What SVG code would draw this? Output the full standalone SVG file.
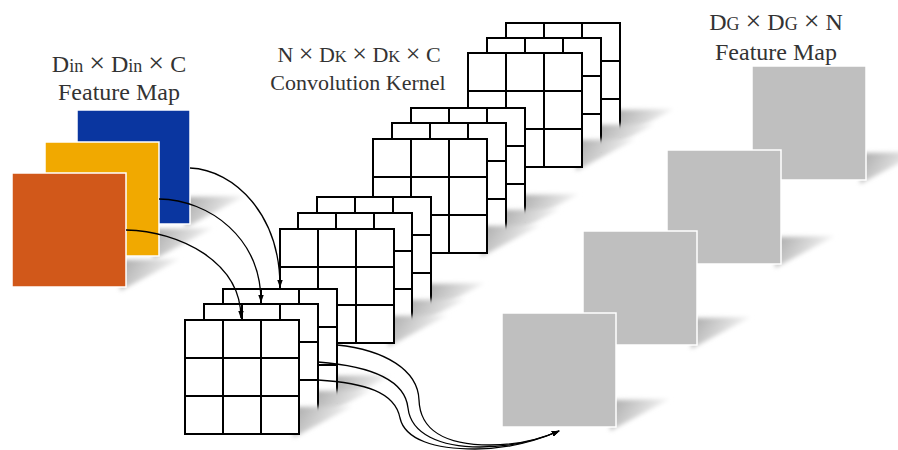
<svg xmlns="http://www.w3.org/2000/svg" width="898" height="450" viewBox="0 0 898 450">
<defs>
<style>
.lbl{font-family:"Liberation Serif","Times New Roman",serif;fill:#333;text-anchor:middle}
.t24{font-size:24px}
.t22{font-size:22px}
.s24{font-size:18px}
.s22{font-size:16.5px}
.x24{font-size:28px}
.x22{font-size:26px}
.map{stroke:#fff;stroke-width:1.5}
.cell{fill:#fff;stroke:#000;stroke-width:2}
.ln{fill:none;stroke:#000;stroke-width:2}
.con{fill:none;stroke:#000;stroke-width:1.3}
</style>
<linearGradient id="shg" x1="0" y1="0" x2="1" y2="0.35">
<stop offset="0" stop-color="#a8a8a8"/>
<stop offset="0.55" stop-color="#d6d6d6"/>
<stop offset="1" stop-color="#ffffff"/>
</linearGradient>
<filter id="soft" x="-0.4" y="-0.4" width="1.8" height="1.8">
<feGaussianBlur stdDeviation="2"/>
</filter>
<polygon id="shadow" points="108,87 168,86 108,118" fill="url(#shg)" filter="url(#soft)"/>
<g id="grid">
<use href="#shadow"/>
<rect class="cell" width="114" height="114"/>
<path class="ln" d="M38,0V114M76,0V114M0,38H114M0,76H114"/>
</g>
<marker id="ah" viewBox="0 0 10 10" refX="9" refY="5" markerWidth="8" markerHeight="8" markerUnits="userSpaceOnUse" orient="auto">
<path d="M0,1.5 L10,5 L0,8.5 z" fill="#000"/>
</marker>
</defs>
<rect width="898" height="450" fill="#fff"/>

<g id="labels">
<text class="lbl t24" x="119" y="72">D<tspan class="s24">in</tspan> <tspan class="x24">×</tspan> D<tspan class="s24">in</tspan> <tspan class="x24">×</tspan> C</text>
<text class="lbl t24" x="119" y="100">Feature Map</text>
<text class="lbl t22" x="359" y="62">N <tspan class="x22">×</tspan> D<tspan class="s22">K</tspan> <tspan class="x22">×</tspan> D<tspan class="s22">K</tspan> <tspan class="x22">×</tspan> C</text>
<text class="lbl t22" x="358" y="90">Convolution Kernel</text>
<text class="lbl t24" x="776" y="30">D<tspan class="s24">G</tspan> <tspan class="x24">×</tspan> D<tspan class="s24">G</tspan> <tspan class="x24">×</tspan> N</text>
<text class="lbl t24" x="776" y="60">Feature Map</text>
</g>

<g id="input-map-blue" transform="translate(77,110)"><use href="#shadow"/><rect class="map" width="113" height="114" fill="#0a36a0"/></g>
<g id="input-map-yellow" transform="translate(45,142)"><use href="#shadow"/><rect class="map" width="114" height="114" fill="#f1a900"/></g>
<g id="input-map-orange" transform="translate(12,173)"><use href="#shadow"/><rect class="map" width="114" height="114" fill="#d1581a"/></g>

<g id="kernel-4">
<use href="#grid" x="506" y="23"/>
<use href="#grid" x="487" y="38"/>
<use href="#grid" x="468" y="53"/>
</g>
<g id="kernel-3">
<use href="#grid" x="411" y="108"/>
<use href="#grid" x="392" y="123"/>
<use href="#grid" x="373" y="139"/>
</g>
<g id="kernel-2">
<use href="#grid" x="317" y="197"/>
<use href="#grid" x="298" y="213"/>
<use href="#grid" x="280" y="229"/>
</g>
<g id="kernel-1">
<use href="#grid" x="223" y="289"/>
<use href="#grid" x="204" y="304"/>
<use href="#grid" x="185" y="320"/>
</g>

<g id="output-map-4" transform="translate(752,66)"><use href="#shadow"/><rect class="map" width="114" height="114" fill="#bfbfbf"/></g>
<g id="output-map-3" transform="translate(667,150)"><use href="#shadow"/><rect class="map" width="114" height="114" fill="#bfbfbf"/></g>
<g id="output-map-2" transform="translate(583,231)"><use href="#shadow"/><rect class="map" width="114" height="114" fill="#bfbfbf"/></g>
<g id="output-map-1" transform="translate(502,313)"><use href="#shadow"/><rect class="map" width="114" height="114" fill="#bfbfbf"/></g>

<g id="connectors">
<path class="con" marker-end="url(#ah)" d="M190,168 C235,170 280,215 280,287"/>
<path class="con" marker-end="url(#ah)" d="M159,199 C210,200 261,238 261,302"/>
<path class="con" marker-end="url(#ah)" d="M126,230 C180,231 241,262 241,318"/>
<path class="con" marker-end="url(#ah)" d="M337,345 C385,350 418,370 419,400 C420,430 445,445 490,445 C520,445 543,438 559,431"/>
<path class="con" marker-end="url(#ah)" d="M318,362 C370,366 405,380 408,408 C411,434 440,447 480,447 C515,447 543,438 559,431"/>
<path class="con" marker-end="url(#ah)" d="M318,380 C365,383 395,392 400,418 C405,440 435,449 475,449 C512,449 543,438 559,431"/>
</g>
</svg>
